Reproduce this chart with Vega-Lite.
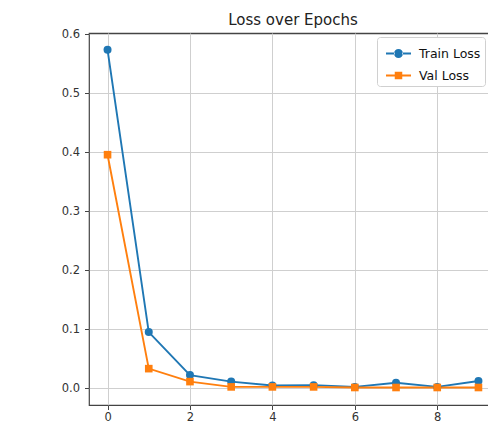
{
  "$schema": "https://vega.github.io/schema/vega-lite/v6.json",
  "width": 408,
  "height": 372,
  "autosize": {"type": "none"},
  "padding": {"left": 89, "top": 33, "right": 0, "bottom": 20},
  "background": "white",
  "title": {"text": "Loss over Epochs", "font": "DejaVu Sans", "fontSize": 15, "fontWeight": "normal", "color": "#222", "offset": 0, "anchor": "middle"},
  "config": {
    "view": {"stroke": "#444", "strokeWidth": 1.2},
    "axis": {"labelFont": "DejaVu Sans", "labelFontSize": 11.5, "labelColor": "#333", "tickColor": "#444", "tickSize": 4.5, "domain": false, "gridColor": "#cfcfcf", "gridWidth": 1, "title": null, "labelPadding": 5},
    "axisX": {"labelPadding": 2}
  },
  "data": {"values": [
    {"epoch": 0, "loss": 0.574, "series": "Train Loss"},
    {"epoch": 1, "loss": 0.095, "series": "Train Loss"},
    {"epoch": 2, "loss": 0.022, "series": "Train Loss"},
    {"epoch": 3, "loss": 0.011, "series": "Train Loss"},
    {"epoch": 4, "loss": 0.0045, "series": "Train Loss"},
    {"epoch": 5, "loss": 0.005, "series": "Train Loss"},
    {"epoch": 6, "loss": 0.002, "series": "Train Loss"},
    {"epoch": 7, "loss": 0.009, "series": "Train Loss"},
    {"epoch": 8, "loss": 0.002, "series": "Train Loss"},
    {"epoch": 9, "loss": 0.012, "series": "Train Loss"},
    {"epoch": 0, "loss": 0.396, "series": "Val Loss"},
    {"epoch": 1, "loss": 0.033, "series": "Val Loss"},
    {"epoch": 2, "loss": 0.011, "series": "Val Loss"},
    {"epoch": 3, "loss": 0.002, "series": "Val Loss"},
    {"epoch": 4, "loss": 0.002, "series": "Val Loss"},
    {"epoch": 5, "loss": 0.002, "series": "Val Loss"},
    {"epoch": 6, "loss": 0.001, "series": "Val Loss"},
    {"epoch": 7, "loss": 0.001, "series": "Val Loss"},
    {"epoch": 8, "loss": 0.001, "series": "Val Loss"},
    {"epoch": 9, "loss": 0.001, "series": "Val Loss"}
  ]},
  "encoding": {
    "x": {"field": "epoch", "type": "quantitative", "scale": {"domain": [-0.45, 9.45], "nice": false, "zero": false}, "axis": {"values": [0, 2, 4, 6, 8], "format": "d", "grid": true}},
    "y": {"field": "loss", "type": "quantitative", "scale": {"domain": [-0.0287, 0.6025], "nice": false, "zero": false}, "axis": {"values": [0, 0.1, 0.2, 0.3, 0.4, 0.5, 0.6], "format": ".1f", "grid": true}},
    "color": {"field": "series", "type": "nominal", "scale": {"domain": ["Train Loss", "Val Loss"], "range": ["#1f77b4", "#ff7f0e"]},
      "legend": {"orient": "none", "legendX": 288, "legendY": 4, "title": null, "padding": 4, "strokeColor": "#d0d0d0", "fillColor": "white", "cornerRadius": 3, "labelFont": "DejaVu Sans", "labelFontSize": 12.5, "labelColor": "#111", "symbolSize": 256, "labelOffset": 8, "rowPadding": 3, "symbolOffset": 5,
        "encode": {"symbols": {"update": {
          "shape": {"signal": "datum.value === 'Train Loss' ? 'M-1,-0.076L-0.3,-0.076L-0.3,0.076L-1,0.076Z M0.3,-0.076L1,-0.076L1,0.076L0.3,0.076Z M-0.36,0A0.36,0.36,0,1,0,0.36,0A0.36,0.36,0,1,0,-0.36,0Z' : 'M-1,-0.076L-0.3,-0.076L-0.3,0.076L-1,0.076Z M0.3,-0.076L1,-0.076L1,0.076L0.3,0.076Z M-0.3,-0.3L0.3,-0.3L0.3,0.3L-0.3,0.3Z'"},
          "fill": {"signal": "datum.value === 'Train Loss' ? '#1f77b4' : '#ff7f0e'"},
          "fillOpacity": {"value": 1},
          "strokeWidth": {"value": 0},
          "size": {"value": 625}
        }}}}
    }
  },
  "layer": [
    {"mark": {"type": "line", "strokeWidth": 1.9}},
    {"transform": [{"filter": "datum.series === 'Train Loss'"}], "mark": {"type": "point", "filled": true, "opacity": 1, "size": 64, "shape": "circle"}},
    {"transform": [{"filter": "datum.series === 'Val Loss'"}], "mark": {"type": "point", "filled": true, "opacity": 1, "size": 58, "shape": "square"}}
  ]
}
